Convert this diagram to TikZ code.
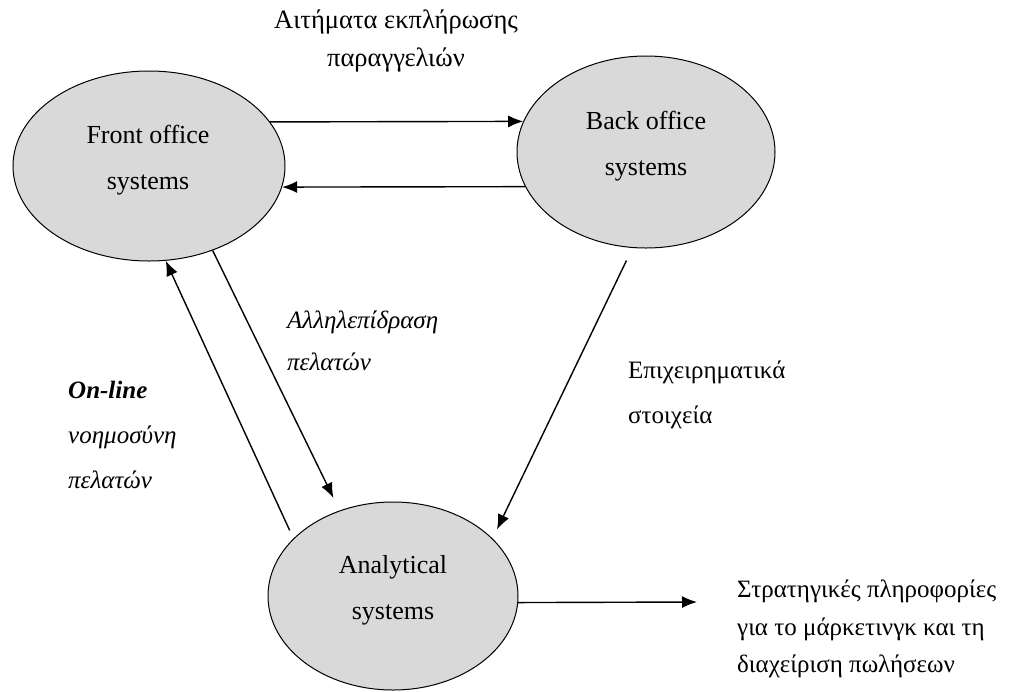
\documentclass[tikz,border=0pt]{standalone}
\usepackage{fontspec}
\setmainfont{Liberation Serif}
\usetikzlibrary{shapes.geometric,arrows.meta}
\definecolor{ellfill}{RGB}{217,217,217}
\begin{document}
\begin{tikzpicture}[x=1pt,y=-1pt,
  sys/.style={ellipse,draw=black,line width=1pt,fill=ellfill,inner sep=0pt},
  systxt/.style={align=center,inner sep=0pt,font=\fontsize{26}{46}\selectfont},
  conn/.style={line width=1.4pt,-{Latex[length=15pt,width=12pt]}},
  lbl/.style={inner sep=0pt}]
\useasboundingbox[fill=white] (0,0) rectangle (1009,691);
% systems
\node[sys,minimum width=272pt,minimum height=190pt] (front) at (149,166) {};
\node[systxt] (fronttxt) at (148,160) {Front office\\systems};
\node[sys,minimum width=258pt,minimum height=192pt] (back) at (646,152) {};
\node[systxt] (backtxt) at (646,146) {Back office\\systems};
\node[sys,minimum width=250pt,minimum height=188pt] (ana) at (393,596) {};
\node[systxt] (anatxt) at (393,590) {Analytical\\systems};
% connectors
\draw[conn] (front.20) -- (back.166);
\draw[conn] (back.196) -- (front.351);
\draw[conn,shorten >=14pt] (front.307) -- (ana.122);
\draw[conn,shorten <=9pt] (ana.150.5) -- (front.280.6);
\draw[conn,shorten <=14pt,shorten >=10pt] (back.262.7) -- (ana.30.9);
\coordinate (out) at (697,602);
\draw[conn] (ana.-3) -- (out);
% labels
\node[lbl,align=center,font=\fontsize{26.5}{38}\selectfont] (req) at (396,41) {Αιτήματα εκπλήρωσης\\παραγγελιών};
\node[lbl,align=left,anchor=west,font=\fontsize{25}{42}\selectfont\itshape] (inter) at (287,341) {Αλληλεπίδραση\\πελατών};
\node[lbl,align=left,anchor=west,font=\fontsize{25}{45}\selectfont\itshape] (online) at (68,435) {{\bfseries On-line}\\νοημοσύνη\\πελατών};
\node[lbl,align=left,anchor=west,font=\fontsize{25}{45}\selectfont] (biz) at (628,394.5) {Επιχειρηματικά\\στοιχεία};
\node[lbl,align=left,anchor=west,font=\fontsize{25}{37.5}\selectfont] (strat) at (737,629) {Στρατηγικές πληροφορίες\\για το μάρκετινγκ και τη\\διαχείριση πωλήσεων};
\end{tikzpicture}
\end{document}
